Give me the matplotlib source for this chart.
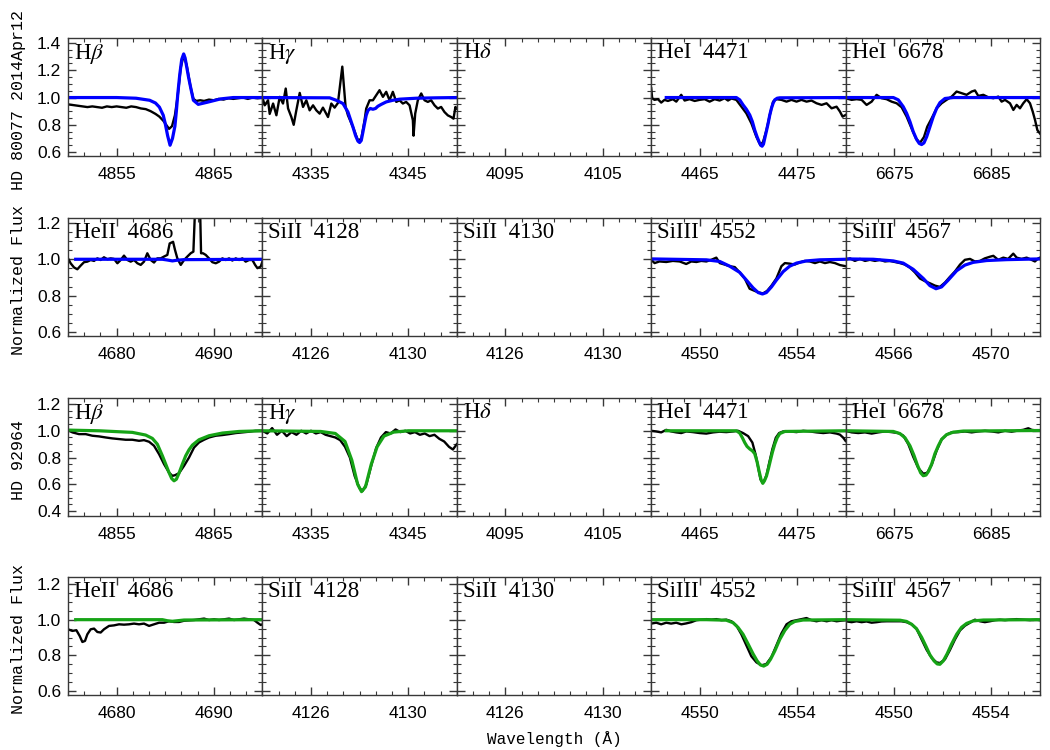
import matplotlib
matplotlib.use('Agg')
import matplotlib.pyplot as plt
from matplotlib.ticker import FixedLocator, MultipleLocator, FormatStrFormatter

plt.rcParams['font.family'] = 'Liberation Sans'
plt.rcParams['mathtext.fontset'] = 'stix'

# ---------------- HD 80077 (blue model) ----------------
# H beta
hb1_obs_wl = [4850, 4850.5, 4851, 4851.5, 4852, 4852.5, 4853, 4853.5, 4854, 4854.5, 4855, 4855.5, 4856,
              4856.5, 4857, 4857.5, 4858, 4858.5, 4859, 4859.4, 4859.8, 4860.1, 4860.4, 4860.7, 4861.0,
              4861.3, 4861.6, 4861.9, 4862.2, 4862.6, 4862.9, 4863.2, 4863.6, 4864, 4864.5, 4865, 4865.5,
              4866, 4866.5, 4867, 4867.5, 4868, 4868.5, 4869, 4869.5, 4870]
hb1_obs_fl = [0.95, 0.945, 0.94, 0.935, 0.93, 0.935, 0.93, 0.925, 0.935, 0.93, 0.935, 0.93, 0.925, 0.935,
              0.93, 0.92, 0.915, 0.9, 0.88, 0.86, 0.83, 0.8, 0.77, 0.79, 0.87, 1.02, 1.22, 1.31, 1.24, 1.08,
              0.99, 0.975, 0.98, 0.975, 0.985, 0.98, 0.99, 0.985, 0.995, 0.99, 0.995, 1.0, 0.99, 1.0, 0.995, 1.0]
hb1_mod_wl = [4850, 4855, 4857, 4858.4, 4859.0, 4859.4, 4859.8, 4860.0, 4860.25, 4860.5, 4860.75, 4861.0,
              4861.15, 4861.3, 4861.5, 4861.7, 4861.9, 4862.05, 4862.2, 4862.4, 4862.6, 4862.9, 4863.4,
              4864.3, 4865.7, 4867, 4870]
hb1_mod_fl = [1.0, 1.0, 0.995, 0.98, 0.96, 0.93, 0.87, 0.81, 0.72, 0.65, 0.7, 0.79, 0.9, 1.03, 1.17, 1.28,
              1.32, 1.29, 1.23, 1.15, 1.08, 0.98, 0.95, 0.965, 0.99, 1.0, 1.0]

# H gamma
hg1_obs_wl = [4330.00, 4330.24, 4330.58, 4330.75, 4331.10, 4331.44, 4331.78, 4332.12, 4332.40, 4332.64,
              4332.98, 4333.22, 4333.49, 4333.84, 4334.18, 4334.52, 4334.86, 4335.21, 4335.55, 4335.89,
              4336.23, 4336.75, 4337.09, 4337.43, 4337.77, 4338.01, 4338.22, 4338.39, 4338.56, 4338.80,
              4339.32, 4339.83, 4340.17, 4340.51, 4340.68, 4341.03, 4341.37, 4341.71, 4342.05, 4342.40,
              4342.74, 4343.08, 4343.42, 4343.77, 4344.11, 4344.45, 4344.79, 4345.14, 4345.48, 4345.55,
              4345.72, 4345.99, 4346.34, 4346.68, 4347.02, 4347.36, 4347.71, 4348.05, 4348.39, 4348.73,
              4349.08, 4349.42, 4349.66, 4349.86, 4350.00]
hg1_obs_fl = [1.00, 0.943, 0.98, 0.88, 0.956, 0.87, 1.005, 0.956, 1.066, 0.92, 0.857, 0.80, 0.906, 1.034,
              0.931, 0.98, 0.906, 0.943, 0.906, 0.882, 0.926, 0.857, 0.956, 0.926, 0.96, 1.103, 1.227,
              1.079, 0.931, 0.87, 0.783, 0.685, 0.697, 0.833, 0.919, 0.98, 0.98, 1.017, 1.054, 1.005,
              1.042, 0.98, 1.042, 0.968, 0.98, 0.956, 0.968, 0.943, 0.833, 0.72, 0.882, 0.98, 1.03, 0.98,
              0.968, 0.98, 0.943, 0.919, 0.931, 0.894, 0.869, 0.857, 0.845, 0.931, 0.919]
hg1_mod_wl = [4330, 4336.92, 4337.60, 4338.29, 4338.80, 4339.32, 4339.59, 4339.83, 4340.0, 4340.17,
              4340.34, 4340.51, 4340.68, 4340.86, 4341.10, 4341.37, 4341.64, 4341.88, 4342.23, 4342.74,
              4343.42, 4344.11, 4345.82, 4347.88, 4350]
hg1_mod_fl = [1.0, 0.998, 0.98, 0.956, 0.894, 0.783, 0.72, 0.68, 0.67, 0.685, 0.746, 0.81, 0.87, 0.905,
              0.92, 0.914, 0.92, 0.936, 0.95, 0.968, 0.98, 0.988, 0.995, 0.998, 1.0]

# HeI 4471
he4471_1_obs_wl = [4460.00, 4460.10, 4460.34, 4460.69, 4461.03, 4461.37, 4461.72, 4462.23, 4462.58, 4463.09,
                   4463.44, 4463.95, 4464.47, 4464.98, 4465.50, 4466.01, 4466.53, 4467.04, 4467.56, 4467.90,
                   4468.25, 4468.76, 4469.28, 4469.79, 4470.31, 4470.82, 4471.24, 4471.51, 4471.86, 4472.20,
                   4472.54, 4472.89, 4473.40, 4473.92, 4474.43, 4474.95, 4475.46, 4475.98, 4476.49, 4477.01,
                   4477.53, 4478.04, 4478.56, 4479.07, 4479.42, 4479.69, 4480.0]
he4471_1_obs_fl = [1.069, 0.995, 0.983, 0.988, 0.963, 0.983, 0.975, 0.988, 0.97, 1.02, 0.978, 0.988, 0.975,
                   0.983, 0.988, 0.97, 0.988, 0.978, 0.995, 0.978, 0.993, 0.983, 0.933, 0.884, 0.81, 0.712,
                   0.65, 0.675, 0.761, 0.872, 0.97, 0.988, 0.983, 0.97, 0.983, 0.97, 0.983, 0.97, 0.978,
                   0.958, 0.946, 0.958, 0.921, 0.933, 0.897, 0.86, 0.872]
he4471_1_mod_wl = [4461.55, 4468.76, 4469.11, 4469.45, 4469.79, 4470.14, 4470.41, 4470.65, 4470.89, 4471.10,
                   4471.27, 4471.41, 4471.55, 4471.68, 4471.86, 4472.03, 4472.20, 4472.37, 4472.54, 4472.71,
                   4472.96, 4473.23, 4480]
he4471_1_mod_fl = [1.0, 1.0, 0.983, 0.946, 0.914, 0.872, 0.823, 0.761, 0.712, 0.675, 0.65, 0.643, 0.658,
                   0.70, 0.756, 0.81, 0.872, 0.921, 0.958, 0.983, 0.995, 0.998, 1.0]

# HeI 6678
he6678_1_obs_wl = [6670.00, 6670.62, 6671.13, 6671.65, 6672.16, 6672.68, 6673.19, 6673.70, 6674.22, 6674.73,
                   6675.25, 6675.76, 6676.28, 6676.79, 6677.24, 6677.65, 6678.06, 6678.40, 6678.85, 6679.37,
                   6679.88, 6680.39, 6680.91, 6681.42, 6681.94, 6682.45, 6682.97, 6683.31, 6683.65, 6684.17,
                   6684.68, 6685.20, 6685.71, 6686.05, 6686.40, 6686.91, 6687.26, 6687.60, 6687.94, 6688.28,
                   6688.63, 6688.97, 6689.25, 6689.49, 6689.73, 6690.0]
he6678_1_obs_fl = [0.995, 0.983, 0.988, 0.983, 0.946, 0.97, 1.02, 0.995, 0.988, 0.97, 0.958, 0.929, 0.86,
                   0.773, 0.70, 0.667, 0.71, 0.786, 0.847, 0.921, 0.958, 0.983, 1.007, 1.044, 1.032, 1.02,
                   1.044, 1.052, 1.012, 1.02, 1.002, 0.995, 1.007, 0.97, 0.983, 0.958, 0.909, 0.946, 0.921,
                   0.958, 0.988, 0.958, 0.897, 0.835, 0.761, 0.736]
he6678_1_mod_wl = [6670.0, 6674.91, 6675.42, 6675.93, 6676.28, 6676.62, 6676.96, 6677.31, 6677.58, 6677.82,
                   6678.06, 6678.34, 6678.68, 6679.02, 6679.37, 6679.71, 6680.22, 6681.08, 6690.0]
he6678_1_mod_fl = [1.0, 1.0, 0.983, 0.933, 0.884, 0.823, 0.749, 0.692, 0.663, 0.655, 0.667, 0.712, 0.786,
                   0.86, 0.921, 0.963, 0.993, 1.0, 1.0]

# HeII 4686
he4686_1_obs_wl = [4675.00, 4675.27, 4675.62, 4675.96, 4676.30, 4676.65, 4676.99, 4677.33, 4677.68, 4678.02,
                   4678.36, 4678.70, 4679.05, 4679.39, 4679.73, 4680.08, 4680.42, 4680.76, 4681.11, 4681.45,
                   4681.79, 4682.14, 4682.48, 4682.82, 4683.16, 4683.51, 4683.85, 4684.19, 4684.54, 4684.88,
                   4685.22, 4685.46, 4685.81, 4686.01, 4686.25, 4686.60, 4686.94, 4687.28, 4687.62, 4687.90,
                   4688.14, 4688.55, 4688.69, 4688.89, 4689.17, 4689.51, 4689.85, 4690.20, 4690.54, 4690.88,
                   4691.23, 4691.57, 4691.91, 4692.26, 4692.60, 4692.94, 4693.28, 4693.63, 4693.97, 4694.25,
                   4694.49, 4694.83, 4695.0]
he4686_1_obs_fl = [1.005, 0.978, 0.955, 0.945, 0.965, 0.984, 0.987, 0.996, 0.991, 1.005, 0.996, 1.011, 1.0,
                   1.005, 1.002, 0.978, 0.996, 1.02, 0.996, 0.987, 0.996, 0.978, 0.969, 0.987, 1.033, 0.996,
                   0.982, 1.005, 1.005, 1.015, 1.024, 1.087, 1.096, 1.051, 1.005, 0.969, 0.996, 1.015, 1.033,
                   1.042, 1.37, 1.37, 1.033, 1.033, 1.024, 1.005, 0.984, 0.978, 0.987, 1.005, 0.996, 1.005,
                   0.993, 1.005, 0.996, 1.005, 0.987, 0.996, 0.996, 0.969, 0.951, 0.96, 0.987]
he4686_1_mod_wl = [4675.79, 4684.71, 4685.22, 4685.74, 4686.25, 4686.94, 4695.0]
he4686_1_mod_fl = [1.0, 1.0, 0.996, 0.991, 0.995, 0.998, 1.0]

# SiIII 4552
si4552_1_obs_wl = [4548.00, 4548.14, 4548.34, 4548.62, 4548.89, 4549.17, 4549.44, 4549.65, 4549.86, 4550.06,
                   4550.27, 4550.47, 4550.68, 4550.82, 4551.02, 4551.23, 4551.44, 4551.64, 4551.85, 4552.05,
                   4552.26, 4552.44, 4552.60, 4552.77, 4552.95, 4553.15, 4553.36, 4553.50, 4553.70, 4553.91,
                   4554.12, 4554.32, 4554.53, 4554.74, 4554.94, 4555.15, 4555.35, 4555.56, 4555.77, 4556.0]
si4552_1_obs_fl = [0.997, 0.979, 0.988, 0.985, 0.991, 0.988, 0.974, 0.988, 0.985, 0.991, 0.988, 0.997, 1.009,
                   0.979, 0.971, 0.962, 0.957, 0.928, 0.894, 0.838, 0.826, 0.817, 0.812, 0.826, 0.855, 0.894,
                   0.962, 0.979, 0.976, 0.971, 0.983, 0.991, 0.988, 0.979, 0.988, 0.979, 0.985, 0.979, 0.968,
                   0.962]
si4552_1_mod_wl = [4548.00, 4548.89, 4550.27, 4550.82, 4551.23, 4551.64, 4551.92, 4552.19, 4552.40, 4552.58,
                   4552.74, 4552.95, 4553.15, 4553.43, 4553.70, 4553.98, 4554.39, 4554.94, 4556.0]
si4552_1_mod_fl = [1.002, 1.0, 0.997, 0.988, 0.962, 0.928, 0.885, 0.843, 0.817, 0.809, 0.817, 0.848, 0.885,
                   0.932, 0.962, 0.979, 0.991, 0.997, 1.0]

# SiIII 4567
si4567_1_obs_wl = [4564.00, 4564.18, 4564.38, 4564.59, 4564.80, 4565.00, 4565.21, 4565.41, 4565.62, 4565.82,
                   4566.03, 4566.24, 4566.44, 4566.65, 4566.85, 4567.06, 4567.26, 4567.47, 4567.68, 4567.88,
                   4568.09, 4568.29, 4568.50, 4568.71, 4568.91, 4569.12, 4569.32, 4569.53, 4569.73, 4569.94,
                   4570.08, 4570.28, 4570.49, 4570.69, 4570.90, 4571.04, 4571.24, 4571.45, 4571.65, 4571.79,
                   4571.93, 4572.0]
si4567_1_obs_fl = [0.997, 1.005, 0.991, 1.002, 0.991, 0.997, 0.991, 0.997, 0.988, 0.991, 0.985, 0.979, 0.971,
                   0.954, 0.928, 0.894, 0.88, 0.868, 0.855, 0.848, 0.872, 0.903, 0.933, 0.971, 0.997, 1.002,
                   0.988, 0.991, 1.005, 1.014, 1.019, 0.997, 1.009, 1.002, 1.031, 1.009, 1.002, 1.009, 0.997,
                   0.988, 1.005, 1.009]
si4567_1_mod_wl = [4564.0, 4565.14, 4565.96, 4566.37, 4566.78, 4567.20, 4567.47, 4567.72, 4567.95, 4568.22,
                   4568.57, 4568.91, 4569.25, 4569.80, 4570.63, 4572.0]
si4567_1_mod_fl = [1.002, 1.0, 0.991, 0.979, 0.945, 0.894, 0.855, 0.838, 0.848, 0.885, 0.937, 0.968, 0.983,
                   0.993, 0.998, 1.002]

# ---------------- HD 92964 (green model) ----------------
hb2_obs_wl = [4850.0, 4850.45, 4851.13, 4851.82, 4852.50, 4853.19, 4853.88, 4854.56, 4855.25, 4855.93,
              4856.62, 4857.31, 4857.82, 4858.34, 4858.85, 4859.37, 4859.88, 4860.39, 4860.74, 4861.01,
              4861.42, 4861.94, 4862.45, 4862.97, 4863.48, 4864.0, 4864.51, 4865.20, 4865.88, 4866.57,
              4867.26, 4867.94, 4868.63, 4869.31, 4870.0]
hb2_obs_fl = [1.005, 0.988, 0.975, 0.975, 0.963, 0.958, 0.95, 0.943, 0.938, 0.933, 0.933, 0.925, 0.93, 0.918,
              0.888, 0.825, 0.751, 0.688, 0.663, 0.668, 0.683, 0.738, 0.80, 0.875, 0.913, 0.933, 0.95, 0.963,
              0.968, 0.975, 0.983, 0.988, 0.993, 1.0, 1.0]
hb2_mod_wl = [4850.0, 4853.19, 4856.62, 4857.99, 4858.68, 4859.19, 4859.71, 4860.05, 4860.39, 4860.67,
              4860.91, 4861.15, 4861.42, 4861.77, 4862.11, 4862.45, 4862.80, 4863.48, 4864.51, 4865.88,
              4867.60, 4870.0]
hb2_mod_fl = [1.005, 1.0, 0.988, 0.968, 0.943, 0.90, 0.813, 0.751, 0.688, 0.643, 0.626, 0.638, 0.683, 0.751,
              0.813, 0.858, 0.893, 0.933, 0.963, 0.983, 0.995, 1.0]

hg2_obs_wl = [4330, 4330.5, 4331, 4331.5, 4332, 4332.5, 4333, 4333.5, 4334, 4334.5, 4335, 4335.5, 4336,
              4336.5, 4337, 4337.5, 4338, 4338.5, 4339, 4339.5, 4340, 4340.3, 4340.7, 4341.2, 4341.7, 4342.2,
              4342.7, 4343.2, 4343.7, 4344.2, 4344.7, 4345.2, 4345.7, 4346.2, 4346.7, 4347.2, 4347.7,
              4348.2, 4348.7, 4349.2, 4349.6, 4350]
hg2_obs_fl = [1.0, 0.98, 1.02, 0.97, 1.0, 0.96, 0.99, 0.97, 1.0, 0.98, 1.0, 0.98, 0.99, 0.97, 0.96, 0.95,
              0.93, 0.88, 0.8, 0.66, 0.57, 0.55, 0.6, 0.74, 0.87, 0.95, 0.99, 0.98, 1.01, 0.99, 1.0, 0.98,
              0.99, 0.97, 0.98, 0.96, 0.97, 0.94, 0.92, 0.88, 0.86, 0.9]
hg2_mod_wl = [4330, 4336, 4337.5, 4338.5, 4339.2, 4339.8, 4340.2, 4340.6, 4341.2, 4341.8, 4342.5, 4343.5,
              4345, 4350]
hg2_mod_fl = [1.0, 0.995, 0.98, 0.92, 0.78, 0.6, 0.545, 0.58, 0.75, 0.88, 0.96, 0.99, 1.0, 1.0]

he4471_2_obs_wl = [4460.00, 4460.52, 4461.03, 4461.55, 4462.06, 4462.58, 4463.09, 4463.61, 4464.30, 4464.98,
                   4465.67, 4466.36, 4467.04, 4467.73, 4468.42, 4468.93, 4469.45, 4469.97, 4470.41, 4470.76,
                   4471.03, 4471.24, 4471.44, 4471.65, 4471.86, 4472.13, 4472.47, 4472.82, 4473.16, 4473.57,
                   4474.26, 4474.95, 4475.64, 4476.32, 4477.01, 4477.70, 4478.38, 4479.07, 4479.42, 4479.76,
                   4480.0]
he4471_2_obs_fl = [1.0, 0.995, 0.988, 1.007, 0.995, 0.988, 0.983, 0.995, 0.99, 0.983, 0.979, 0.988, 0.993,
                   0.99, 0.995, 1.0, 0.983, 0.96, 0.912, 0.817, 0.717, 0.638, 0.614, 0.631, 0.667, 0.757,
                   0.864, 0.948, 0.983, 0.995, 0.995, 0.99, 1.0, 0.995, 0.988, 0.983, 0.988, 0.979, 0.971,
                   0.948, 0.924]
he4471_2_mod_wl = [4461.55, 4468.76, 4469.11, 4469.38, 4469.62, 4469.86, 4470.14, 4470.41, 4470.65, 4470.89,
                   4471.10, 4471.31, 4471.48, 4471.65, 4471.86, 4472.06, 4472.27, 4472.47, 4472.71, 4472.96,
                   4473.23, 4473.75, 4480]
he4471_2_mod_fl = [1.0, 1.0, 0.983, 0.948, 0.912, 0.883, 0.864, 0.85, 0.829, 0.769, 0.698, 0.633, 0.607,
                   0.626, 0.662, 0.717, 0.781, 0.84, 0.90, 0.948, 0.979, 0.995, 1.0]

he6678_2_obs_wl = [6670.00, 6670.62, 6671.30, 6671.99, 6672.68, 6673.36, 6674.05, 6674.73, 6675.42, 6675.93,
                   6676.45, 6676.96, 6677.48, 6677.99, 6678.40, 6678.85, 6679.37, 6679.88, 6680.39, 6680.91,
                   6681.60, 6682.28, 6682.97, 6683.65, 6684.34, 6685.03, 6685.71, 6686.40, 6687.08, 6687.77,
                   6688.28, 6688.80, 6689.14, 6689.66, 6690.0]
he6678_2_obs_fl = [1.0, 0.988, 0.983, 0.988, 0.979, 0.988, 0.995, 0.99, 0.983, 0.964, 0.90, 0.805, 0.721,
                   0.679, 0.686, 0.745, 0.852, 0.936, 0.971, 0.988, 0.99, 0.995, 0.988, 0.995, 1.0, 0.995,
                   0.988, 1.0, 0.993, 1.002, 1.007, 1.019, 1.007, 1.002, 1.0]
he6678_2_mod_wl = [6670.0, 6674.91, 6675.59, 6676.11, 6676.62, 6677.03, 6677.38, 6677.72, 6677.99, 6678.27,
                   6678.54, 6678.85, 6679.19, 6679.54, 6679.88, 6680.39, 6681.08, 6682.11, 6690.0]
he6678_2_mod_fl = [1.0, 0.995, 0.979, 0.948, 0.888, 0.817, 0.745, 0.686, 0.664, 0.669, 0.698, 0.75, 0.829,
                   0.888, 0.936, 0.971, 0.99, 0.998, 1.002]

he4686_2_obs_wl = [4675.00, 4675.45, 4675.86, 4676.20, 4676.48, 4676.75, 4676.99, 4677.33, 4677.68, 4678.02,
                   4678.36, 4678.70, 4679.22, 4679.73, 4680.25, 4680.76, 4681.28, 4681.79, 4682.31, 4682.82,
                   4683.34, 4683.85, 4684.37, 4684.88, 4685.39, 4685.91, 4686.42, 4686.94, 4687.45, 4687.97,
                   4688.48, 4689.0, 4689.51, 4690.03, 4690.54, 4691.05, 4691.57, 4692.08, 4692.60, 4693.11,
                   4693.63, 4694.14, 4694.49, 4694.83, 4695.0]
he4686_2_obs_fl = [0.946, 0.937, 0.941, 0.909, 0.875, 0.881, 0.918, 0.946, 0.95, 0.931, 0.928, 0.946, 0.965,
                   0.968, 0.974, 0.972, 0.974, 0.978, 0.974, 0.978, 0.965, 0.974, 0.983, 0.983, 0.991, 0.987,
                   0.987, 0.994, 0.996, 0.998, 1.002, 1.006, 0.998, 1.002, 0.998, 1.002, 1.006, 0.998, 1.002,
                   1.006, 1.002, 0.998, 0.983, 0.97, 0.974]
he4686_2_mod_wl = [4675.79, 4684.71, 4685.22, 4685.74, 4686.25, 4686.94, 4695.0]
he4686_2_mod_fl = [1.0, 1.0, 0.994, 0.991, 0.994, 0.998, 1.0]

si4552_2_obs_wl = [4548.00, 4548.21, 4548.41, 4548.62, 4548.82, 4549.03, 4549.24, 4549.44, 4549.65, 4549.86,
                   4550.06, 4550.27, 4550.47, 4550.68, 4550.89, 4551.09, 4551.30, 4551.51, 4551.71, 4551.92,
                   4552.12, 4552.33, 4552.54, 4552.74, 4552.95, 4553.15, 4553.36, 4553.57, 4553.77, 4553.98,
                   4554.19, 4554.39, 4554.60, 4554.80, 4555.01, 4555.22, 4555.42, 4555.63, 4555.84, 4556.0]
si4552_2_obs_fl = [0.978, 0.983, 0.974, 0.983, 0.978, 0.983, 0.974, 0.979, 0.986, 0.997, 1.0, 1.003, 1.0,
                   1.003, 0.997, 1.0, 0.991, 0.966, 0.918, 0.855, 0.795, 0.761, 0.744, 0.752, 0.791, 0.855,
                   0.923, 0.974, 0.991, 0.997, 1.003, 1.009, 0.997, 0.991, 0.997, 0.991, 0.997, 0.991, 0.995,
                   0.997]
si4552_2_mod_wl = [4548.0, 4550.27, 4551.09, 4551.37, 4551.57, 4551.78, 4551.99, 4552.19, 4552.36, 4552.49,
                   4552.63, 4552.77, 4552.91, 4553.09, 4553.29, 4553.50, 4553.70, 4553.91, 4554.25, 4556.0]
si4552_2_mod_fl = [1.0, 1.0, 0.997, 0.983, 0.957, 0.918, 0.863, 0.809, 0.769, 0.747, 0.74, 0.75, 0.778,
                   0.826, 0.889, 0.94, 0.974, 0.99, 0.998, 1.0]

si4567_2_obs_wl = [4548.00, 4548.25, 4548.45, 4548.66, 4548.86, 4549.07, 4549.28, 4549.48, 4549.69, 4549.89,
                   4550.10, 4550.30, 4550.51, 4550.72, 4550.92, 4551.13, 4551.33, 4551.54, 4551.74, 4551.88,
                   4552.09, 4552.29, 4552.50, 4552.71, 4552.91, 4553.12, 4553.32, 4553.53, 4553.73, 4553.94,
                   4554.15, 4554.35, 4554.56, 4554.76, 4555.04, 4555.31, 4555.59, 4555.86, 4556.0]
si4567_2_obs_fl = [0.991, 0.986, 0.991, 0.986, 0.99, 0.983, 0.986, 0.99, 0.991, 0.991, 0.991, 0.991, 0.986,
                   0.974, 0.949, 0.889, 0.832, 0.786, 0.761, 0.757, 0.778, 0.829, 0.889, 0.94, 0.966, 0.983,
                   1.0, 0.991, 0.986, 0.991, 0.997, 1.0, 0.997, 1.0, 1.003, 1.0, 0.997, 1.0, 0.997]
si4567_2_mod_wl = [4548.0, 4550.24, 4550.51, 4550.72, 4550.92, 4551.13, 4551.31, 4551.47, 4551.64, 4551.77,
                   4551.88, 4552.02, 4552.18, 4552.36, 4552.57, 4552.77, 4552.98, 4553.25, 4553.67, 4556.0]
si4567_2_mod_fl = [1.0, 0.997, 0.99, 0.974, 0.949, 0.901, 0.85, 0.803, 0.769, 0.752, 0.75, 0.769, 0.809,
                   0.863, 0.918, 0.957, 0.979, 0.993, 0.998, 1.0]

# ---------------- panel layout ----------------
row_labels = [['H$\\beta$', 'H$\\gamma$', 'H$\\delta$', 'HeI  4471', 'HeI  6678'],
              ['HeII  4686', 'SiII  4128', 'SiII  4130', 'SiIII  4552', 'SiIII  4567']]
row_xlims = [[(4850, 4870), (4330, 4350), (4090, 4110), (4460, 4480), (6670, 6690)],
             [(4675, 4695), (4124, 4132), (4124, 4132), (4548, 4556), (4564, 4572)]]
row_xticks = [[[4855, 4865], [4335, 4345], [4095, 4105], [4465, 4475], [6675, 6685]],
              [[4680, 4690], [4126, 4130], [4126, 4130], [4550, 4554], [4566, 4570]]]
row_xlims_star2 = [row_xlims[0],
                   [(4675, 4695), (4124, 4132), (4124, 4132), (4548, 4556), (4548, 4556)]]
row_xticks_star2 = [row_xticks[0],
                    [[4680, 4690], [4126, 4130], [4126, 4130], [4550, 4554], [4550, 4554]]]

ylims = [(0.571, 1.437), (0.578, 1.227), (0.363, 1.245), (0.578, 1.239)]
yticks = [[0.6, 0.8, 1.0, 1.2, 1.4], [0.6, 0.8, 1.0, 1.2], [0.4, 0.6, 0.8, 1.0, 1.2], [0.6, 0.8, 1.0, 1.2]]
ylabels = ['HD 80077 2014Apr12', 'Normalized Flux', 'HD 92964', 'Normalized Flux']

star1 = [[(hb1_obs_wl, hb1_obs_fl, hb1_mod_wl, hb1_mod_fl),
          (hg1_obs_wl, hg1_obs_fl, hg1_mod_wl, hg1_mod_fl),
          None,
          (he4471_1_obs_wl, he4471_1_obs_fl, he4471_1_mod_wl, he4471_1_mod_fl),
          (he6678_1_obs_wl, he6678_1_obs_fl, he6678_1_mod_wl, he6678_1_mod_fl)],
         [(he4686_1_obs_wl, he4686_1_obs_fl, he4686_1_mod_wl, he4686_1_mod_fl),
          None, None,
          (si4552_1_obs_wl, si4552_1_obs_fl, si4552_1_mod_wl, si4552_1_mod_fl),
          (si4567_1_obs_wl, si4567_1_obs_fl, si4567_1_mod_wl, si4567_1_mod_fl)]]
star2 = [[(hb2_obs_wl, hb2_obs_fl, hb2_mod_wl, hb2_mod_fl),
          (hg2_obs_wl, hg2_obs_fl, hg2_mod_wl, hg2_mod_fl),
          None,
          (he4471_2_obs_wl, he4471_2_obs_fl, he4471_2_mod_wl, he4471_2_mod_fl),
          (he6678_2_obs_wl, he6678_2_obs_fl, he6678_2_mod_wl, he6678_2_mod_fl)],
         [(he4686_2_obs_wl, he4686_2_obs_fl, he4686_2_mod_wl, he4686_2_mod_fl),
          None, None,
          (si4552_2_obs_wl, si4552_2_obs_fl, si4552_2_mod_wl, si4552_2_mod_fl),
          (si4567_2_obs_wl, si4567_2_obs_fl, si4567_2_mod_wl, si4567_2_mod_fl)]]

rows = [(star1[0], row_xlims[0], row_xticks[0], row_labels[0], 'blue'),
        (star1[1], row_xlims[1], row_xticks[1], row_labels[1], 'blue'),
        (star2[0], row_xlims_star2[0], row_xticks_star2[0], row_labels[0], '#16a316'),
        (star2[1], row_xlims_star2[1], row_xticks_star2[1], row_labels[1], '#16a316')]

W, H = 1050, 750
fig = plt.figure(figsize=(10.5, 7.5), dpi=100)
row_tops = [38, 218, 398, 577]
row_h = 118
x0, x1 = 68, 1040
col_w = (x1 - x0) / 5
frame_col = '#383838'

for r, (panels, xlims, xticks, labels, mcol) in enumerate(rows):
    for c in range(5):
        ax = fig.add_axes([(x0 + c * col_w) / W, 1 - (row_tops[r] + row_h) / H, col_w / W, row_h / H])
        data = panels[c]
        if data is not None:
            ow, of, mw, mf = data
            ax.plot(ow, of, color='black', lw=1.7, solid_joinstyle='round')
            ax.plot(mw, mf, color=mcol, lw=2.3, solid_joinstyle='round')
        ax.set_xlim(*xlims[c])
        ax.set_ylim(*ylims[r])
        step = xticks[c][1] - xticks[c][0]
        ax.xaxis.set_major_locator(FixedLocator(xticks[c]))
        ax.xaxis.set_minor_locator(MultipleLocator(step / 6))
        ax.yaxis.set_major_locator(FixedLocator(yticks[r]))
        ax.yaxis.set_minor_locator(MultipleLocator(0.05))
        ax.yaxis.set_major_formatter(FormatStrFormatter('%.1f'))
        ax.tick_params(which='both', direction='in', top=True, right=True, color=frame_col,
                       labelsize=12.5, labelcolor='black')
        ax.tick_params(which='major', length=6, width=1)
        ax.tick_params(which='minor', length=3, width=0.8)
        ax.tick_params(axis='x', pad=8)
        ax.tick_params(axis='y', pad=5, labelleft=(c == 0))
        for sp in ax.spines.values():
            sp.set_color(frame_col)
            sp.set_linewidth(1.0)
        ax.text(6 / col_w, 1 - 4 / row_h, labels[c], transform=ax.transAxes, ha='left', va='top',
                fontsize=16.5, family='Liberation Serif')

    # row label on the left side
    fig.text(19 / W, 1 - (row_tops[r] + row_h / 2 + 3) / H, ylabels[r], rotation=90, ha='center',
             va='center', fontsize=12, family='Liberation Mono')

fig.text((x0 + x1) / 2 / W, 1 - 739 / H, 'Wavelength (Å)', ha='center', va='center', fontsize=11.5,
         family='Liberation Mono')

plt.savefig('out.png', dpi=100)
